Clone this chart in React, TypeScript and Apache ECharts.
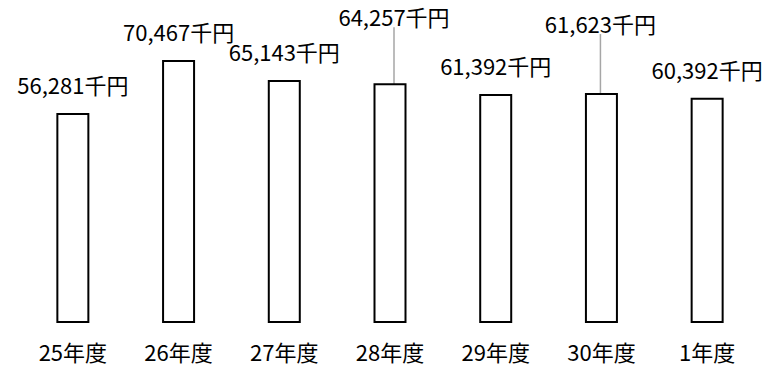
import React, { useEffect, useRef } from "react";
import * as echarts from "echarts";

// 年度ごとの金額（千円）
const categories = ["25年度", "26年度", "27年度", "28年度", "29年度", "30年度", "1年度"];
const amounts = [56281, 70467, 65143, 64257, 61392, 61623, 60392];
// 引き出し線付きで上に逃がすラベル（データ番号）
const liftedLabels = [3, 5];

const FONT = '"Noto Sans CJK JP", "Noto Sans", sans-serif';

export default function App() {
  const ref = useRef<HTMLDivElement>(null);

  useEffect(() => {
    document.body.style.margin = "0";
    if (!ref.current) return;
    const chart = echarts.init(ref.current, undefined, { renderer: "svg" });

    const data = amounts.map((v, i) =>
      liftedLabels.includes(i)
        ? { value: v, labelLine: { show: true, lineStyle: { color: "#a6a6a6", width: 1.5 } } }
        : { value: v }
    );

    chart.setOption({
      animation: false,
      backgroundColor: "#ffffff",
      grid: { left: 20, right: 5, top: 24.5, bottom: 43, containLabel: false },
      xAxis: {
        type: "category",
        data: categories,
        axisLine: { show: false },
        axisTick: { show: false },
        axisLabel: { color: "#000", fontSize: 22, lineHeight: 22, fontFamily: FONT, margin: 17 },
      },
      yAxis: {
        type: "value",
        min: 0,
        max: 80000,
        show: false,
        splitLine: { show: false },
      },
      series: [
        {
          type: "bar",
          data,
          barWidth: 33,
          itemStyle: { color: "#ffffff", borderColor: "#000000", borderWidth: 2 },
          label: {
            show: true,
            position: "top",
            distance: 18,
            color: "#000",
            fontSize: 22,
            lineHeight: 22,
            fontFamily: FONT,
            formatter: (p: any) => Number(p.value).toLocaleString("en-US") + "千円",
          },
          labelLine: { show: false },
          labelLayout: (p: any) => {
            if (p.dataIndex === 3) return { dx: 4, dy: -38 };
            if (p.dataIndex === 5) return { dx: -1, dy: -41 };
            return {};
          },
        },
      ],
    });

    return () => chart.dispose();
  }, []);

  return <div ref={ref} style={{ width: 765, height: 366 }} />;
}
